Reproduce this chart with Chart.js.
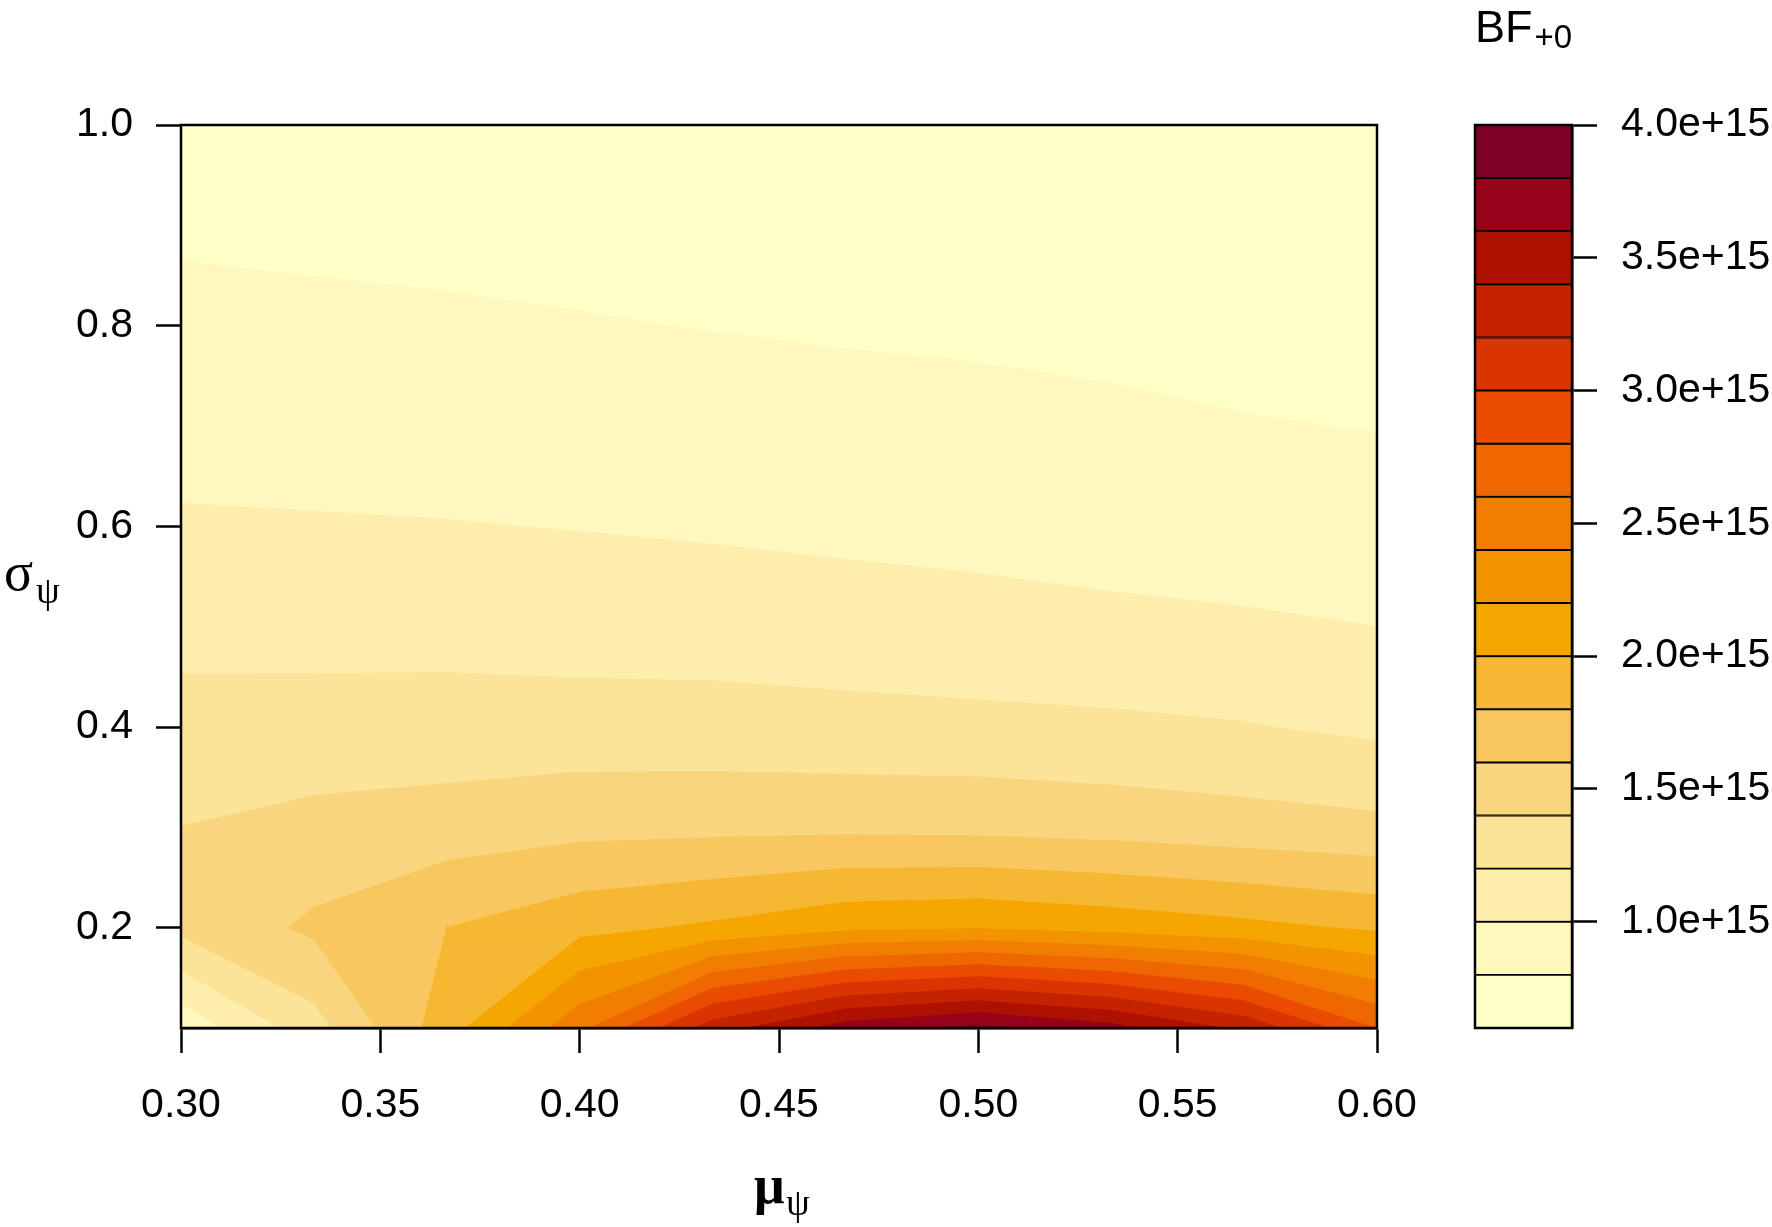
<!DOCTYPE html>
<html><head><meta charset="utf-8">
<script src="https://cdn.jsdelivr.net/npm/chart.js@4.4.1/dist/chart.umd.min.js"></script>
<style>
html,body{margin:0;padding:0;background:#fff;}
#wrap{position:relative;width:1772px;height:1227px;overflow:hidden;}
#main{position:absolute;left:0;top:0;}
#cb{position:absolute;left:1400px;top:0;}
</style></head><body>
<div id="wrap"><canvas id="main" width="1772" height="1227"></canvas><canvas id="cb" width="372" height="1227"></canvas></div>
<script>
// ---- data (mu = x grid, sigma = y grid, BF+0 values per sigma row) ----
const muValues    = [0.3000, 0.3333, 0.3667, 0.4000, 0.4333, 0.4667, 0.5000, 0.5333, 0.5667, 0.6000];
const sigmaValues = [0.1, 0.2, 0.3, 0.4, 0.5, 0.6, 0.7, 0.8, 0.9, 1.0];
const bfSigma01 = [0.85e15, 1.32e15, 1.91e15, 2.54e15, 3.30e15, 3.69e15, 3.85e15, 3.67e15, 3.35e15, 2.79e15];
const bfSigma02 = [1.45e15, 1.635e15, 1.80e15, 1.94e15, 2.03e15, 2.15e15, 2.18e15, 2.12e15, 2.05e15, 1.97e15];
const bfSigma03 = [1.401e15, 1.46e15, 1.50e15, 1.54e15, 1.55e15, 1.555e15, 1.545e15, 1.52e15, 1.48e15, 1.445e15];
const bfSigma04 = [1.27e15, 1.27e15, 1.27e15, 1.285e15, 1.28e15, 1.26e15, 1.255e15, 1.234e15, 1.21e15, 1.16e15];
const bfSigma05 = [1.137e15, 1.138e15, 1.14e15, 1.11e15, 1.106e15, 1.093e15, 1.051e15, 1.045e15, 1.03e15, 1.0e15];
const bfSigma06 = [1.02e15, 1.015e15, 1.007e15, 0.994e15, 0.977e15, 0.954e15, 0.955e15, 0.916e15, 0.88e15, 0.865e15];
const bfSigma07 = [0.933e15, 0.915e15, 0.907e15, 0.89e15, 0.88e15, 0.865e15, 0.86e15, 0.83e15, 0.808e15, 0.795e15];
const bfSigma08 = [0.853e15, 0.84e15, 0.83e15, 0.81e15, 0.795e15, 0.78e15, 0.765e15, 0.759e15, 0.745e15, 0.72e15];
const bfSigma09 = [0.77e15, 0.758e15, 0.742e15, 0.74e15, 0.73e15, 0.72e15, 0.70e15, 0.70e15, 0.69e15, 0.67e15];
const bfSigma10 = [0.71e15, 0.70e15, 0.69e15, 0.69e15, 0.68e15, 0.67e15, 0.66e15, 0.655e15, 0.645e15, 0.63e15];
const bfRows = [bfSigma01, bfSigma02, bfSigma03, bfSigma04, bfSigma05, bfSigma06, bfSigma07, bfSigma08, bfSigma09, bfSigma10];

const contourLevels = [0.6e15,0.8e15,1.0e15,1.2e15,1.4e15,1.6e15,1.8e15,2.0e15,2.2e15,2.4e15,2.6e15,2.8e15,3.0e15,3.2e15,3.4e15,3.6e15,3.8e15,4.0e15];
const xTickValues  = [0.30, 0.35, 0.40, 0.45, 0.50, 0.55, 0.60];
const yTickValues  = [0.2, 0.4, 0.6, 0.8, 1.0];
const cbTickValues = [1.0e15, 1.5e15, 2.0e15, 2.5e15, 3.0e15, 3.5e15, 4.0e15];

// ---- palette: hcl.colors(n, "YlOrRd", rev = TRUE) ----
function hclYlOrRd(n) {
  const h1=5,h2=85,c1=75,c2=40,cmax=180,l1=25,l2=99,p1=1.6,p2=1.3;
  const j = 1/(1+Math.abs(cmax-c1)/Math.abs(cmax-c2));
  const XN=95.047,YN=100,ZN=108.883;
  const den = XN+15*YN+3*ZN, uN=4*XN/den, vN=9*YN/den;
  const gam = v => { v=Math.min(1,Math.max(0,v)); return v<=0.0031308?12.92*v:1.055*Math.pow(v,1/2.4)-0.055; };
  const out=[];
  for (let k=0;k<n;k++){
    const i = k/(n-1);
    const h = h2-(h2-h1)*i;
    const l = l2-(l2-l1)*Math.pow(i,p2);
    const ip = Math.pow(i,p1);
    const c = ip<=j ? c2-(c2-cmax)*ip/j : cmax-(cmax-c1)*(ip-j)/(1-j);
    const U = c*Math.cos(h*Math.PI/180), V = c*Math.sin(h*Math.PI/180);
    const Y = YN*(l>7.999592?Math.pow((l+16)/116,3):l/903.3);
    const u = U/(13*l)+uN, v = V/(13*l)+vN;
    const X = 9*Y*u/(4*v), Z = -X/3-5*Y+3*Y/v;
    const x=X/100,y=Y/100,z=Z/100;
    const R = 3.240479*x-1.537150*y-0.498535*z;
    const G = -0.969256*x+1.875992*y+0.041556*z;
    const B = 0.055648*x-0.204043*y+1.057311*z;
    const hx = t => Math.round(gam(t)*255).toString(16).padStart(2,'0');
    out.push('#'+hx(R)+hx(G)+hx(B));
  }
  return out;
}
const bandColors = hclYlOrRd(contourLevels.length-1);

// ---- filled contour via polygon clipping of each grid cell ----
function clipPoly(poly, level, keepAbove) {
  const out=[]; const n=poly.length;
  for (let i=0;i<n;i++){
    const P=poly[i], Q=poly[(i+1)%n];
    const pIn = keepAbove ? P[2]>=level : P[2]<=level;
    const qIn = keepAbove ? Q[2]>=level : Q[2]<=level;
    if (pIn) out.push(P);
    if (pIn!==qIn){
      const t=(level-P[2])/(Q[2]-P[2]);
      out.push([P[0]+t*(Q[0]-P[0]), P[1]+t*(Q[1]-P[1]), level]);
    }
  }
  return out;
}
const AXIS_FONT = "'Liberation Sans', Arial, sans-serif";
const SERIF = "'Liberation Serif', 'Times New Roman', 'DejaVu Serif', serif";

const contourPlugin = {
  id:'contour',
  beforeDatasetsDraw(chart){
    const {ctx, chartArea:a, scales:{x,y}} = chart;
    ctx.save();
    ctx.beginPath(); ctx.rect(a.left,a.top,a.right-a.left,a.bottom-a.top); ctx.clip();
    for (let b=0;b<bandColors.length;b++){
      const lo=contourLevels[b], hi=contourLevels[b+1];
      ctx.beginPath();
      for (let j=0;j<sigmaValues.length-1;j++){
        for (let i=0;i<muValues.length-1;i++){
          let poly=[[muValues[i],sigmaValues[j],bfRows[j][i]],
                    [muValues[i+1],sigmaValues[j],bfRows[j][i+1]],
                    [muValues[i+1],sigmaValues[j+1],bfRows[j+1][i+1]],
                    [muValues[i],sigmaValues[j+1],bfRows[j+1][i]]];
          poly=clipPoly(poly,lo,true);
          if (poly.length<3) continue;
          poly=clipPoly(poly,hi,false);
          if (poly.length<3) continue;
          poly.forEach((p,k)=>{
            const px=x.getPixelForValue(p[0]), py=y.getPixelForValue(p[1]);
            if(k===0) ctx.moveTo(px,py); else ctx.lineTo(px,py);
          });
          ctx.closePath();
        }
      }
      ctx.fillStyle=bandColors[b]; ctx.strokeStyle=bandColors[b]; ctx.lineWidth=1.2;
      ctx.fill(); ctx.stroke();
    }
    ctx.restore();
  },
  afterDraw(chart){
    const {ctx, chartArea:a} = chart;
    ctx.save();
    ctx.strokeStyle='#000'; ctx.lineWidth=2.5;
    ctx.strokeRect(a.left,a.top,a.right-a.left,a.bottom-a.top);
    // axis titles
    ctx.fillStyle='#000'; ctx.textBaseline='alphabetic'; ctx.textAlign='left';
    ctx.font='bold 54px '+SERIF;
    ctx.fillText('μ',754,1203);
    ctx.font='38px '+SERIF;
    ctx.fillText('ψ',786,1215);
    ctx.font='54px '+SERIF;
    ctx.fillText('σ',4,590);
    ctx.font='38px '+SERIF;
    ctx.fillText('ψ',36,603);
    ctx.restore();
  }
};

new Chart(document.getElementById('main'), {
  type:'scatter',
  data:{datasets:[{data:[], pointRadius:0}]},
  options:{
    responsive:false, animation:false, devicePixelRatio:1,
    layout:{padding:{left:0,top:125,right:395,bottom:0}},
    plugins:{legend:{display:false}, tooltip:{enabled:false}},
    scales:{
      x:{type:'linear', min:0.3, max:0.6,
         afterBuildTicks:s=>{s.ticks=xTickValues.map(v=>({value:v}));},
         afterFit:s=>{s.height=199;},
         ticks:{callback:v=>Number(v).toFixed(2), font:{family:AXIS_FONT,size:41}, color:'#000', padding:28, maxRotation:0, autoSkip:false},
         grid:{display:true, drawOnChartArea:false, drawTicks:true, tickLength:25, tickWidth:2.5, tickColor:'#000'},
         border:{display:true, color:'#000', width:2.5}},
      y:{type:'linear', min:0.1, max:1.0,
         afterBuildTicks:s=>{s.ticks=yTickValues.map(v=>({value:v}));},
         afterFit:s=>{s.width=181;},
         ticks:{callback:v=>Number(v).toFixed(1), font:{family:AXIS_FONT,size:41}, color:'#000', padding:23, autoSkip:false},
         grid:{display:true, drawOnChartArea:false, drawTicks:true, tickLength:25, tickWidth:2.5, tickColor:'#000'},
         border:{display:true, color:'#000', width:2.5}}
    }
  },
  plugins:[contourPlugin]
});

// ---- colour key ----
const cbPlugin = {
  id:'cbframe',
  afterDraw(chart){
    const {ctx, chartArea:a} = chart;
    ctx.save();
    ctx.strokeStyle='#000'; ctx.lineWidth=2.5;
    ctx.strokeRect(a.left,a.top,a.right-a.left,a.bottom-a.top);
    ctx.fillStyle='#000'; ctx.textAlign='left'; ctx.textBaseline='alphabetic';
    ctx.font='45px '+AXIS_FONT;
    ctx.fillText('BF',a.left,42);
    const w=ctx.measureText('BF').width;
    ctx.font='33px '+AXIS_FONT;
    ctx.fillText('+0',a.left+w+2,48);
    ctx.restore();
  }
};
new Chart(document.getElementById('cb'), {
  type:'bar',
  data:{labels:['BF'],
        datasets:bandColors.map((c,k)=>({data:[[contourLevels[k],contourLevels[k+1]]],
          backgroundColor:c, borderColor:'#000', borderWidth:1.3, borderSkipped:false,
          grouped:false, barPercentage:1, categoryPercentage:1}))},
  options:{
    responsive:false, animation:false, devicePixelRatio:1,
    layout:{padding:{left:75,top:125,right:0,bottom:199}},
    plugins:{legend:{display:false}, tooltip:{enabled:false}},
    scales:{
      x:{display:false},
      y:{position:'right', min:contourLevels[0], max:contourLevels[contourLevels.length-1],
         afterBuildTicks:s=>{s.ticks=cbTickValues.map(v=>({value:v}));},
         afterFit:s=>{s.width=200;},
         ticks:{callback:v=>(v/1e15).toFixed(1)+'e+15', font:{family:AXIS_FONT,size:41}, color:'#000', padding:24, autoSkip:false},
         grid:{display:true, drawOnChartArea:false, drawTicks:true, tickLength:25, tickWidth:2.5, tickColor:'#000'},
         border:{display:true, color:'#000', width:2.5}}
    }
  },
  plugins:[cbPlugin]
});
</script>
</body></html>
